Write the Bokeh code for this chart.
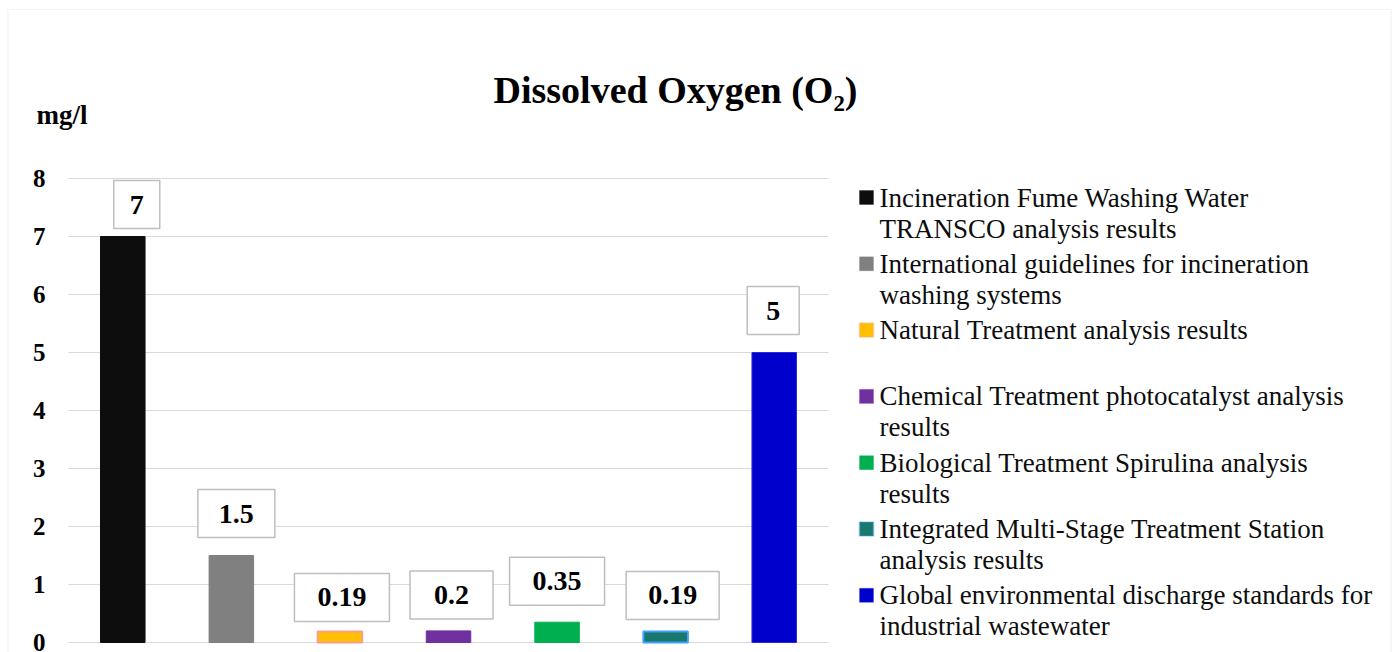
from bokeh.plotting import figure
from bokeh.models import ColumnDataSource, Label, BoxAnnotation, Range1d, FixedTicker
from bokeh.embed import file_html
from bokeh.resources import INLINE

# ---------------- data ----------------
categories = [
    "Incineration Fume Washing Water TRANSCO analysis results",
    "International guidelines for incineration washing systems",
    "Natural Treatment  analysis results",
    "Chemical Treatment photocatalyst analysis results",
    "Biological Treatment Spirulina analysis results",
    "Integrated Multi-Stage Treatment Station analysis results",
    "Global environmental discharge standards for industrial wastewater",
]
values = [7, 1.5, 0.19, 0.2, 0.35, 0.19, 5]
value_labels = ["7", "1.5", "0.19", "0.2", "0.35", "0.19", "5"]
legend_lines = [
    ["Incineration Fume Washing Water", "TRANSCO analysis results"],
    ["International guidelines for incineration", "washing systems"],
    ["Natural Treatment  analysis results"],
    ["Chemical Treatment photocatalyst analysis", "results"],
    ["Biological Treatment Spirulina analysis", "results"],
    ["Integrated Multi-Stage Treatment Station", "analysis results"],
    ["Global environmental discharge standards for", "industrial wastewater"],
]
y_ticks = [0, 1, 2, 3, 4, 5, 6, 7, 8]
title_text = "Dissolved Oxygen (O\u2082)"
y_unit = "mg/l"

# ---------------- styles / layout ----------------
fill_colors = ["#0d0d0d", "#808080", "#ffc000", "#7030a0", "#00b050", "#19776b", "#0000cc"]
line_colors = ["#0d0d0d", "#808080", "#f4a08a", "#7030a0", "#00b050", "#40a0ff", "#2a2ad6"]
line_widths = [1, 1, 2, 1, 1, 2, 1]
label_dx = [14, 5, 2, 3, 0, 7, -1]
label_dy = [32, 42, 34, 36, 41, 36, 42]
label_pad_x = [16, 21, 23, 24, 23, 22, 19]

SERIF = "Liberation Serif"
W, H = 1393, 652
# plot area (in canvas pixels, measured from the top-left corner)
PA_L, PA_R = 68, 828
PA_TOP, PA_BOT = 178, 642

n = len(categories)
ymax = y_ticks[-1]
px_x = (PA_R - PA_L) / n
px_y = (PA_BOT - PA_TOP) / ymax
x_start = -0.5 - PA_L / px_x
x_end = x_start + W / px_x
y_start = -(H - PA_BOT) / px_y
y_end = y_start + H / px_y


def sx(X):
    return X


def sy(Y):
    return H - Y


p = figure(
    width=W, height=H, output_backend="svg", toolbar_location=None,
    x_range=Range1d(x_start, x_end), y_range=Range1d(y_start, y_end),
    x_axis_location=None,
    min_border=0, min_border_left=0, min_border_right=0,
    min_border_top=0, min_border_bottom=0,
)
p.outline_line_color = None
p.background_fill_color = "white"
p.border_fill_color = "white"
p.xgrid.visible = False

yax = p.yaxis[0]
yax.fixed_location = -0.5
yax.ticker = FixedTicker(ticks=y_ticks)
yax.axis_line_color = None
yax.major_tick_line_color = None
yax.minor_tick_line_color = None
yax.major_tick_in = 0
yax.major_tick_out = 0
yax.major_label_standoff = 23
yax.major_label_text_font = SERIF
yax.major_label_text_font_style = "bold"
yax.major_label_text_font_size = "25px"
yax.major_label_text_color = "black"

yg = p.ygrid[0]
yg.ticker = FixedTicker(ticks=y_ticks)
yg.grid_line_color = "#d9d9d9"
yg.grid_line_width = 1.2
yg.cross_bounds = (-0.5, n - 0.5)

src = ColumnDataSource(dict(
    x=list(range(n)), top=values, cat=categories,
    fill=fill_colors, line=line_colors, lw=line_widths,
))
p.vbar(x="x", top="top", bottom=0, width=0.41, source=src,
       fill_color="fill", line_color="line", line_width="lw")

# data labels
for i, (v, t) in enumerate(zip(values, value_labels)):
    p.add_layout(Label(
        x=i, y=v, x_offset=label_dx[i], y_offset=label_dy[i], text=t,
        text_font=SERIF, text_font_style="bold", text_font_size="28px",
        text_color="black", text_align="center", text_baseline="middle",
        background_fill_color="white", border_line_color="#bfbfbf",
        border_line_width=1.5,
        padding=dict(left=label_pad_x[i], right=label_pad_x[i], top=15, bottom=15),
    ))

# outer chart border
p.add_layout(BoxAnnotation(
    left=sx(7.5), right=sx(1390.5), top=sy(9), bottom=sy(700),
    left_units="screen", right_units="screen", top_units="screen", bottom_units="screen",
    fill_color=None, fill_alpha=0, line_color="#d9d9d9", line_width=1.2,
))

# title and unit
p.add_layout(Label(
    x=sx(675), y=sy(89), x_units="screen", y_units="screen", text=title_text,
    text_font=SERIF, text_font_style="bold", text_font_size="38px",
    text_align="center", text_baseline="middle", text_color="black",
))
p.add_layout(Label(
    x=sx(36), y=sy(114), x_units="screen", y_units="screen", text=y_unit,
    text_font=SERIF, text_font_style="bold", text_font_size="27px",
    text_align="left", text_baseline="middle", text_color="black",
))

# legend (manual, multi-line entries)
LEG_Y0, LEG_STEP, LINE_STEP = 197, 66.3, 31
for i, lines in enumerate(legend_lines):
    yc = LEG_Y0 + i * LEG_STEP
    p.add_layout(BoxAnnotation(
        left=sx(859), right=sx(873), top=sy(yc - 7), bottom=sy(yc + 7),
        left_units="screen", right_units="screen", top_units="screen", bottom_units="screen",
        fill_color=fill_colors[i], fill_alpha=1, line_color=line_colors[i],
        line_width=line_widths[i],
    ))
    for j, ln in enumerate(lines):
        p.add_layout(Label(
            x=sx(879), y=sy(yc + j * LINE_STEP), x_units="screen", y_units="screen",
            text=ln, text_font=SERIF, text_font_size="27px", text_color="#0d0d0d",
            text_align="left", text_baseline="middle",
        ))

open("out.html", "w").write(file_html(p, INLINE))
